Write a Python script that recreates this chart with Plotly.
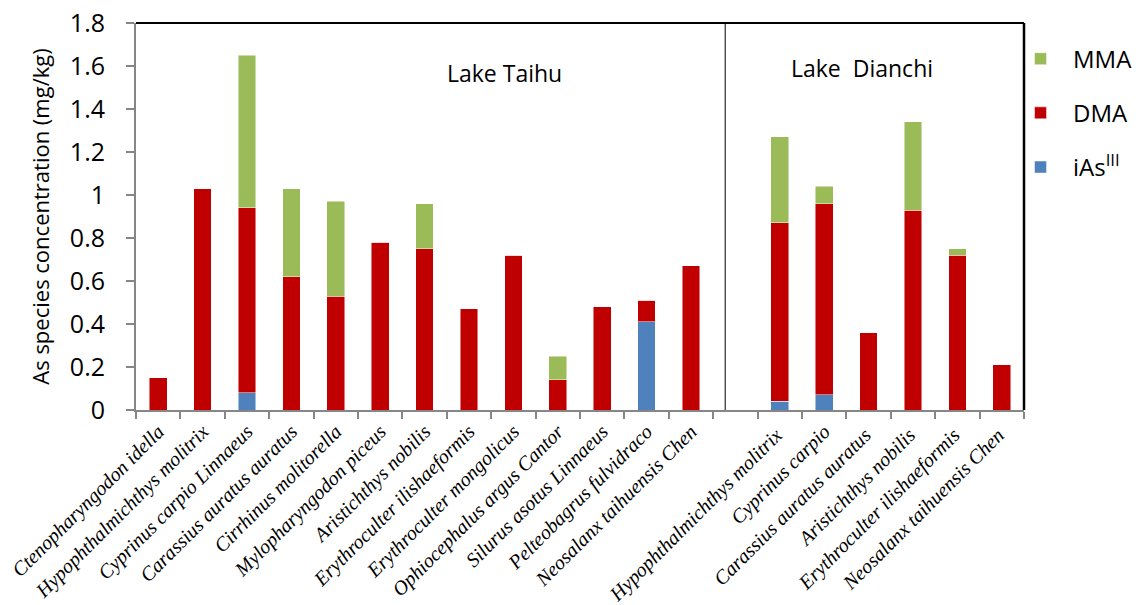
import plotly.graph_objects as go

categories = [
    "Ctenopharyngodon idella", "Hypophthalmichthys molitrix", "Cyprinus carpio Linnaeus",
    "Carassius auratus auratus", "Cirrhinus molitorella", "Mylopharyngodon piceus",
    "Aristichthys nobilis", "Erythroculter ilishaeformis", "Erythroculter mongolicus",
    "Ophiocephalus argus Cantor", "Silurus asotus Linnaeus", "Pelteobagrus fulvidraco",
    "Neosalanx taihuensis Chen", " ",
    "Hypophthalmichthys molitrix ", "Cyprinus carpio", "Carassius auratus auratus ",
    "Aristichthys nobilis ", "Erythroculter ilishaeformis ", "Neosalanx taihuensis Chen ",
]
ias = [0, 0, 0.08, 0, 0, 0, 0, 0, 0, 0, 0, 0.41, 0, None,
       0.04, 0.07, 0, 0, 0, 0]
dma = [0.15, 1.03, 0.86, 0.62, 0.53, 0.78, 0.75, 0.47, 0.72, 0.14, 0.48, 0.10, 0.67, None,
       0.83, 0.89, 0.36, 0.93, 0.72, 0.21]
mma = [0, 0, 0.71, 0.41, 0.44, 0, 0.21, 0, 0, 0.11, 0, 0, 0, None,
       0.40, 0.08, 0, 0.41, 0.03, 0]

lake_labels = ["Lake Taihu", "Lake  Dianchi"]
y_ticks = [0, 0.2, 0.4, 0.6, 0.8, 1.0, 1.2, 1.4, 1.6, 1.8]

GREEN = "#9BBB59"
RED = "#C00000"
BLUE = "#4F81BD"
GREY = "#868686"

fig = go.Figure()
for name, vals, col, grp, rank in [("iAs<sup>III</sup>", ias, BLUE, "g3", 3),
                                   ("DMA", dma, RED, "g2", 2),
                                   ("MMA", mma, GREEN, "g1", 1)]:
    fig.add_trace(go.Bar(
        x=categories, y=vals, name=name, legendgroup=grp, legendrank=rank,
        marker=dict(color=col, line=dict(color="rgba(255,255,255,0.6)", width=0.8)),
        width=0.4,
    ))

fig.update_layout(
    width=1142, height=605,
    barmode="stack",
    plot_bgcolor="white", paper_bgcolor="white",
    margin=dict(l=136, r=118, t=23, b=195, autoexpand=False),
    font=dict(family="Open Sans", color="black"),
    showlegend=True,
    legend=dict(
        x=0.982, y=0.965, xanchor="left", yanchor="top",
        traceorder="grouped", tracegroupgap=20,
        bgcolor="rgba(0,0,0,0)",
        font=dict(size=24, family="Open Sans", color="black"),
        itemwidth=55,
    ),
)
fig.update_xaxes(
    type="category", tickangle=-45, tickson="boundaries", automargin=False,
    ticks="outside", ticklen=7, tickwidth=2, tickcolor=GREY,
    showline=True, linecolor=GREY, linewidth=2,
    tickfont=dict(family="Liberation Serif", size=20, style="italic", color="black"),
    showgrid=False, zeroline=False,
)
fig.update_yaxes(
    range=[0, 1.8], tickvals=y_ticks, automargin=False,
    ticks="outside", ticklen=8, tickwidth=2, tickcolor=GREY, ticklabelstandoff=16,
    showline=True, linecolor=GREY, linewidth=2,
    tickfont=dict(size=25, family="Open Sans"),
    title=dict(text="As species concentration (mg/kg)", font=dict(size=22, family="Open Sans"), standoff=14),
    showgrid=False, zeroline=False,
)

# frame: top and right black borders
fig.add_shape(type="line", xref="paper", yref="paper", x0=0, x1=1, y0=1, y1=1,
              line=dict(color="black", width=2))
fig.add_shape(type="line", xref="paper", yref="paper", x0=1, x1=1, y0=0, y1=1,
              line=dict(color="black", width=2.5))
# separator between lakes
fig.add_shape(type="line", xref="x", yref="paper", x0=12.77, x1=12.77, y0=0, y1=1,
              line=dict(color="black", width=1))

fig.add_annotation(x=7.81, y=1.567, xref="x", yref="y", text=lake_labels[0],
                   showarrow=False, font=dict(size=23, family="Open Sans"))
fig.add_annotation(x=15.85, y=1.59, xref="x", yref="y", text=lake_labels[1],
                   showarrow=False, font=dict(size=23, family="Open Sans"))

fig.write_html("out.html")
